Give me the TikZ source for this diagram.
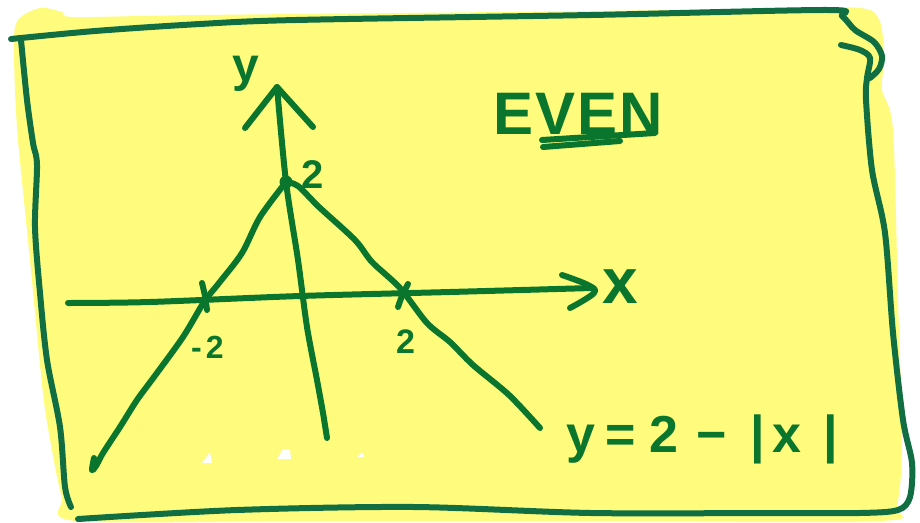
\documentclass[tikz,border=0pt]{standalone}
\usepackage{fontspec}
\setmainfont{Liberation Sans}
\definecolor{ink}{RGB}{10,117,45}
\definecolor{framec}{RGB}{16,110,66}
\definecolor{paper}{RGB}{255,252,125}
\begin{document}
\begin{tikzpicture}[x=1pt,y=-1pt,
  pen/.style={draw=ink,line width=6pt,line cap=round,line join=round},
  framepen/.style={draw=framec,line width=6pt,line cap=round,line join=round},
  lbl/.style={text=ink,inner sep=0pt,anchor=base west}]
\useasboundingbox (0,0) rectangle (920,522);
% paper
\fill[paper] plot[smooth cycle, tension=0.5] coordinates {
  (14,45) (18,20) (40,8) (62,12) (75,17) (200,15) (500,12) (760,9) (860,8)
  (880,22) (884,60) (882,90) (893,130) (898,300) (902,440) (897,505) (880,521)
  (600,521) (300,521) (76,521) (62,497) (52,450) (43,393) (30,260) (17,127)};
% small gaps in the paper
\fill[white] (202,463) -- (210,452) -- (212,463) -- cycle;
\fill[white] (277,459) -- (283,449) -- (290,449) -- (291,459) -- cycle;
\fill[white] (357,457) -- (362,452) -- (364,457) -- cycle;
% frame
\draw[framepen] plot[smooth, tension=0.5] coordinates {
  (11,39) (95,31) (200,24) (296,20) (591,15) (827,10) (842,16) (855,30)
  (874,42) (882,56) (879,69) (870,78)};
\draw[framepen] plot[smooth, tension=0.5] coordinates {
  (841,45) (860,50) (870,58) (867,78) (866,100) (872,170) (885,233) (893,333)
  (903,420) (912,463) (910,497) (898,510) (860,513) (769,513) (591,513)
  (414,507) (237,510) (78,519)};
\draw[framepen] plot[smooth, tension=0.5] coordinates {
  (21,40) (27,100) (33,143) (37,165) (35,227) (40,293) (47,360) (60,427)
  (65,487) (71,507)};
% named points
\coordinate (peak) at (286,182);
\coordinate (ytop) at (277,87);
% x axis
\draw[pen] plot[smooth, tension=0.5] coordinates {(68,303) (150,302) (300,296) (450,292) (592,288)};
\draw[pen] plot[smooth, tension=0.6] coordinates {(562,275) (588,285) (594,293) (570,308)};
% ticks
\draw[pen] plot[smooth] coordinates {(202,283) (205,296) (207,310)};
\draw[pen] plot[smooth] coordinates {(408,284) (402,296) (398,307)};
% y axis
\draw[pen] plot[smooth, tension=0.5] coordinates {(327,438) (323,413) (317,380) (307,327) (298,260) (286,182) (277,87)};
\draw[pen] (245,128) -- (ytop) -- (313,127);
% graph
\fill[ink] (peak) circle (6.5);
\draw[pen] plot[smooth, tension=0.5] coordinates {
  (286,182) (260,217) (242,253) (219,283) (204,302) (183,337) (154,377)
  (137,400) (120,427) (103,453) (96,466) (92,470) (94,458)};
\draw[pen] plot[smooth, tension=0.5] coordinates {
  (286,182) (298,186) (319,207) (355,240) (372,262) (400,288) (427,323)
  (450,342) (473,365) (509,395) (540,428)};
% labels
\node[lbl, font=\bfseries\fontsize{48}{48}\selectfont] (ylab) at (232,81) {y};
\node[lbl, font=\bfseries\fontsize{40}{40}\selectfont] (ytick) at (301,188) {2};
\node[lbl, font=\bfseries\fontsize{32}{32}\selectfont] (xneg) at (191,358) {-\hspace{4pt}2};
\node[lbl, font=\bfseries\fontsize{34}{34}\selectfont] (xpos) at (396,353) {2};
\node[lbl, font=\bfseries\fontsize{64}{64}\selectfont] (xlab) at (602,303) {x};
\node[lbl, font=\bfseries\fontsize{60}{60}\selectfont] (even) at (493,134) {E\hspace{2pt}V\hspace{2pt}E\hspace{2pt}N};
\draw[pen] (542,140) -- (655,133);
\draw[pen] (543,147) -- (620,141);
\node[lbl, font=\bfseries\fontsize{52}{52}\selectfont] (eqn) at (566,452)
  {y\hspace{10pt}=\hspace{14pt}2\hspace{18pt}−\hspace{24pt}|\hspace{7pt}x\hspace{22pt}|};
\end{tikzpicture}
\end{document}
